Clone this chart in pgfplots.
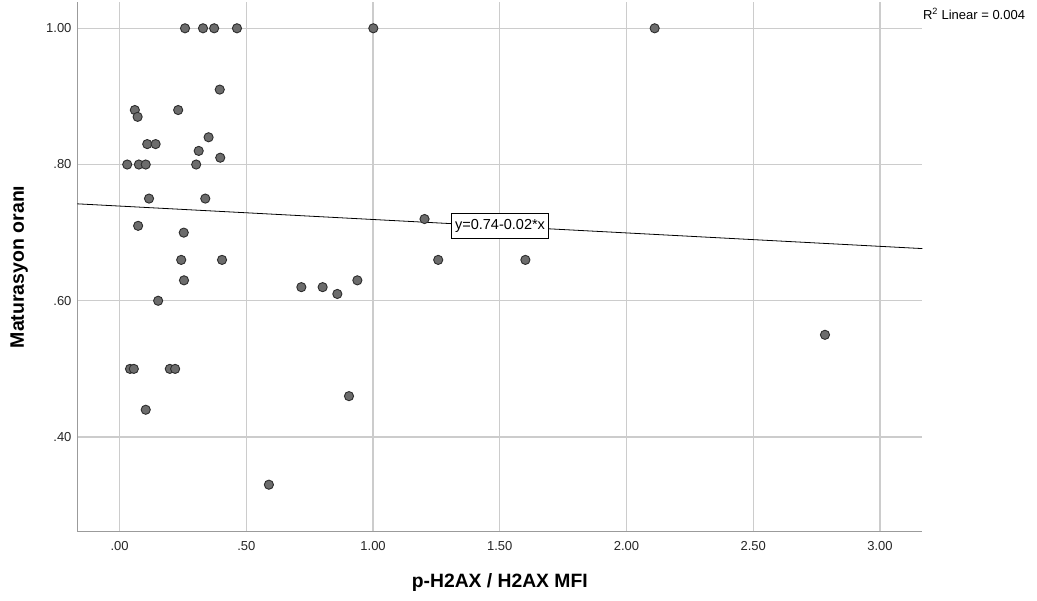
\documentclass[border=0pt]{standalone}
\usepackage{fontspec}
\setmainfont{Liberation Sans}
\usepackage{pgfplots}
\usepackage{pgfplotstable}
\pgfplotsset{compat=1.18}
\definecolor{gridc}{RGB}{204,204,204}
\definecolor{axisc}{RGB}{155,155,155}
\definecolor{markfill}{RGB}{108,108,108}
\definecolor{markedge}{RGB}{45,45,45}

% p-H2AX / H2AX MFI vs Maturasyon orani
\pgfplotstableread{
x y
0.258 1.00
0.329 1.00
0.373 1.00
0.463 1.00
1.001 1.00
2.111 1.00
0.395 0.91
0.060 0.88
0.231 0.88
0.071 0.87
0.351 0.84
0.109 0.83
0.142 0.83
0.312 0.82
0.397 0.81
0.030 0.80
0.076 0.80
0.103 0.80
0.302 0.80
0.116 0.75
0.338 0.75
1.203 0.72
0.073 0.71
0.253 0.70
0.243 0.66
0.404 0.66
1.257 0.66
1.601 0.66
0.254 0.63
0.938 0.63
0.717 0.62
0.801 0.62
0.859 0.61
0.152 0.60
2.783 0.55
0.041 0.50
0.056 0.50
0.198 0.50
0.219 0.50
0.905 0.46
0.103 0.44
0.589 0.33
}\scatterdata

\begin{document}
\begin{tikzpicture}
\useasboundingbox (-77.3pt,-69.3pt) rectangle (959.7pt,531.7pt);
\begin{axis}[
    at={(0,0)}, anchor=south west,
    scale only axis,
    width=845pt, height=529.7pt,
    xmin=-0.167, xmax=3.167,
    ymin=0.261, ymax=1.0386,
    axis lines=left,
    axis line style={-, axisc, line width=1.5pt},
    xtick={0,0.5,1,1.5,2,2.5,3},
    xticklabels={.00,.50,1.00,1.50,2.00,2.50,3.00},
    ytick={0.4,0.6,0.8,1.0},
    yticklabels={.40,.60,.80,1.00},
    major tick length=0pt,
    grid=major,
    major grid style={gridc, line width=1.3pt},
    tick label style={font=\fontsize{13}{15}\selectfont, text=black!85},
    xticklabel shift=6pt,
    yticklabel shift=2.3pt,
    xlabel={\textbf{p-H2AX / H2AX MFI}},
    ylabel={\textbf{Maturasyon oranı}},
    xlabel style={at={([yshift=-51pt]axis description cs:0.5,0)}, anchor=center, font=\fontsize{19.3}{22}\selectfont},
    ylabel style={at={([xshift=-58pt]axis description cs:0,0.5)}, anchor=center, font=\fontsize{19.5}{22}\selectfont},
    clip=false,
]
\addplot[only marks, mark=*, mark size=4.6pt,
    mark options={fill=markfill, draw=markedge, line width=0.9pt}]
    table[x=x, y=y] {\scatterdata};
\addplot[black, line width=0.8pt, mark=none]
    coordinates {(-0.167,0.7423) (3.167,0.6766)};
\node[draw=black, fill=white, line width=0.8pt, inner xsep=3.5pt, inner ysep=5.5pt,
    text height=10.5pt, text depth=3pt, font=\fontsize{14.5}{16}\selectfont]
    at (axis cs:1.501,0.7097) {y=0.74-0.02*x};
\node[anchor=west, inner sep=0pt, font=\fontsize{13}{15}\selectfont]
    at ([yshift=-12pt, xshift=0.5pt]rel axis cs:1,1) {R\textsuperscript{2} Linear = 0.004};
\end{axis}
\end{tikzpicture}
\end{document}
